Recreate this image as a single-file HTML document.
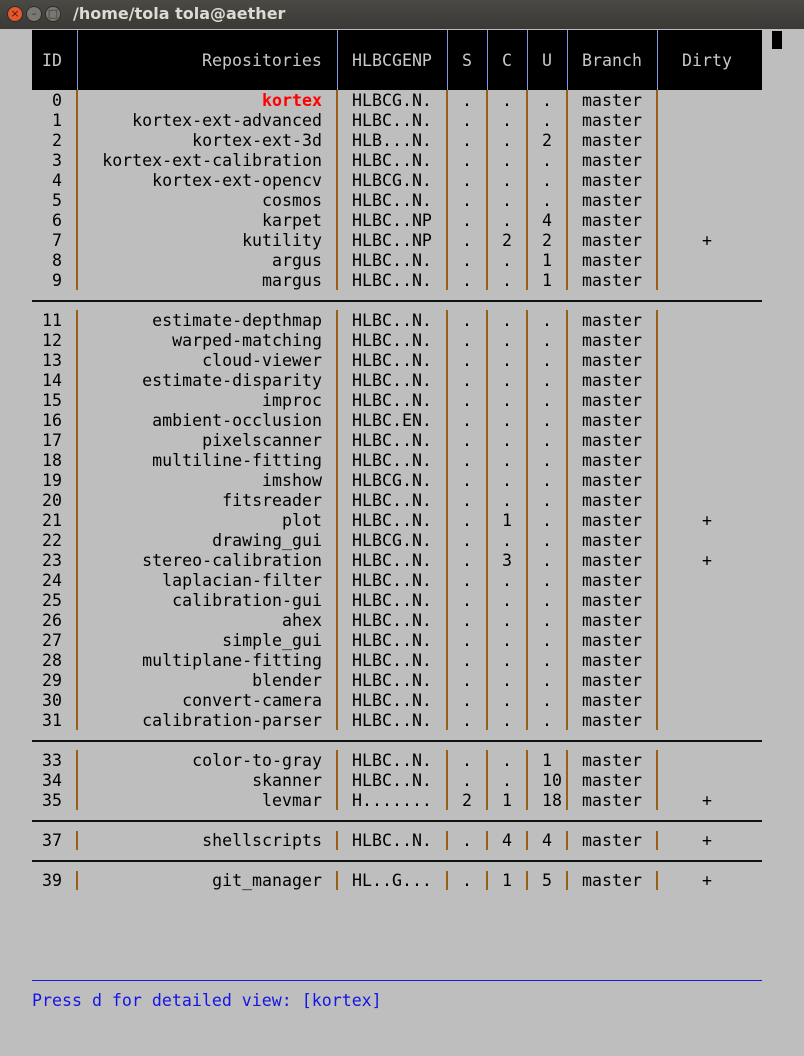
<!DOCTYPE html>
<html><head><meta charset="utf-8"><style>
*{margin:0;padding:0}
body{width:804px;height:1056px;background:#bebebe;position:relative;overflow:hidden;font-family:"DejaVu Sans Mono","Liberation Mono",monospace;font-size:16.6px;color:#000}
.tb{position:absolute;left:0;top:0;width:804px;height:29px;background:linear-gradient(#4a4944,#3a3935)}
.btn{position:absolute;top:6px;width:16px;height:16px;border-radius:50%;background:#7a7872;border:1px solid #2d2c29;box-sizing:border-box;font-size:11px;line-height:14px;text-align:center;color:#333;font-family:"DejaVu Sans",sans-serif}
.title{position:absolute;left:73px;top:4px;color:#dfdbd2;font-family:"DejaVu Sans","Liberation Sans",sans-serif;font-weight:bold;font-size:16px}
.hd{position:absolute;left:32px;top:30px;width:730px;height:60px;background:#000}
.hv{position:absolute;top:30px;height:60px;width:1px;background:#7d9be0}
.ht{position:absolute;top:51px;line-height:20px;color:#c8c8c8;white-space:pre}
.r{position:absolute;left:0;width:804px;height:20px;line-height:20px;white-space:pre}
.r i{font-style:normal;position:absolute;top:1px}
.a{left:0;width:62px;text-align:right}
.p{left:0;width:322px;text-align:right}
.f{left:352px}
.s{left:462px}.c{left:502px}.u{left:542px}
.b{left:582px}.d{left:702px}
.v{position:absolute;width:2px;background:#9a5f16}
.h{position:absolute;left:32px;width:730px;height:2px;background:#111}
.red{color:#f00;font-weight:bold}
</style></head><body>
<div class="tb"><div class="btn" style="left:7px;background:#e5582e;color:#4a1a0a">×</div><div class="btn" style="left:26px">–</div><div class="btn" style="left:45px">□</div><div class="title">/home/tola tola@aether</div></div>
<div style="position:absolute;left:772px;top:31px;width:10px;height:18px;background:#000"></div>
<div class="hd"></div>
<div class="hv" style="left:77px"></div><div class="hv" style="left:337px"></div><div class="hv" style="left:447px"></div><div class="hv" style="left:487px"></div><div class="hv" style="left:527px"></div><div class="hv" style="left:567px"></div><div class="hv" style="left:657px"></div>
<div class="ht" style="left:42px">ID</div><div class="ht" style="left:202px">Repositories</div><div class="ht" style="left:352px">HLBCGENP</div><div class="ht" style="left:462px">S</div><div class="ht" style="left:502px">C</div><div class="ht" style="left:542px">U</div><div class="ht" style="left:582px">Branch</div><div class="ht" style="left:682px">Dirty</div>

<div class="v" style="left:76px;top:90px;height:200px"></div><div class="v" style="left:336px;top:90px;height:200px"></div><div class="v" style="left:446px;top:90px;height:200px"></div><div class="v" style="left:486px;top:90px;height:200px"></div><div class="v" style="left:526px;top:90px;height:200px"></div><div class="v" style="left:566px;top:90px;height:200px"></div><div class="v" style="left:656px;top:90px;height:200px"></div>
<div class="v" style="left:76px;top:310px;height:420px"></div><div class="v" style="left:336px;top:310px;height:420px"></div><div class="v" style="left:446px;top:310px;height:420px"></div><div class="v" style="left:486px;top:310px;height:420px"></div><div class="v" style="left:526px;top:310px;height:420px"></div><div class="v" style="left:566px;top:310px;height:420px"></div><div class="v" style="left:656px;top:310px;height:420px"></div>
<div class="v" style="left:76px;top:750px;height:60px"></div><div class="v" style="left:336px;top:750px;height:60px"></div><div class="v" style="left:446px;top:750px;height:60px"></div><div class="v" style="left:486px;top:750px;height:60px"></div><div class="v" style="left:526px;top:750px;height:60px"></div><div class="v" style="left:566px;top:750px;height:60px"></div><div class="v" style="left:656px;top:750px;height:60px"></div>
<div class="v" style="left:76px;top:831px;height:19px"></div><div class="v" style="left:336px;top:831px;height:19px"></div><div class="v" style="left:446px;top:831px;height:19px"></div><div class="v" style="left:486px;top:831px;height:19px"></div><div class="v" style="left:526px;top:831px;height:19px"></div><div class="v" style="left:566px;top:831px;height:19px"></div><div class="v" style="left:656px;top:831px;height:19px"></div>
<div class="v" style="left:76px;top:871px;height:19px"></div><div class="v" style="left:336px;top:871px;height:19px"></div><div class="v" style="left:446px;top:871px;height:19px"></div><div class="v" style="left:486px;top:871px;height:19px"></div><div class="v" style="left:526px;top:871px;height:19px"></div><div class="v" style="left:566px;top:871px;height:19px"></div><div class="v" style="left:656px;top:871px;height:19px"></div>

<div class="h" style="top:300px"></div><div class="h" style="top:740px"></div><div class="h" style="top:820px"></div><div class="h" style="top:860px"></div>

<div class="r" style="top:90px"><i class="a">0</i><i class="p red">kortex</i><i class="f">HLBCG.N.</i><i class="s">.</i><i class="c">.</i><i class="u">.</i><i class="b">master</i></div>
<div class="r" style="top:110px"><i class="a">1</i><i class="p">kortex-ext-advanced</i><i class="f">HLBC..N.</i><i class="s">.</i><i class="c">.</i><i class="u">.</i><i class="b">master</i></div>
<div class="r" style="top:130px"><i class="a">2</i><i class="p">kortex-ext-3d</i><i class="f">HLB...N.</i><i class="s">.</i><i class="c">.</i><i class="u">2</i><i class="b">master</i></div>
<div class="r" style="top:150px"><i class="a">3</i><i class="p">kortex-ext-calibration</i><i class="f">HLBC..N.</i><i class="s">.</i><i class="c">.</i><i class="u">.</i><i class="b">master</i></div>
<div class="r" style="top:170px"><i class="a">4</i><i class="p">kortex-ext-opencv</i><i class="f">HLBCG.N.</i><i class="s">.</i><i class="c">.</i><i class="u">.</i><i class="b">master</i></div>
<div class="r" style="top:190px"><i class="a">5</i><i class="p">cosmos</i><i class="f">HLBC..N.</i><i class="s">.</i><i class="c">.</i><i class="u">.</i><i class="b">master</i></div>
<div class="r" style="top:210px"><i class="a">6</i><i class="p">karpet</i><i class="f">HLBC..NP</i><i class="s">.</i><i class="c">.</i><i class="u">4</i><i class="b">master</i></div>
<div class="r" style="top:230px"><i class="a">7</i><i class="p">kutility</i><i class="f">HLBC..NP</i><i class="s">.</i><i class="c">2</i><i class="u">2</i><i class="b">master</i><i class="d">+</i></div>
<div class="r" style="top:250px"><i class="a">8</i><i class="p">argus</i><i class="f">HLBC..N.</i><i class="s">.</i><i class="c">.</i><i class="u">1</i><i class="b">master</i></div>
<div class="r" style="top:270px"><i class="a">9</i><i class="p">margus</i><i class="f">HLBC..N.</i><i class="s">.</i><i class="c">.</i><i class="u">1</i><i class="b">master</i></div>

<div class="r" style="top:310px"><i class="a">11</i><i class="p">estimate-depthmap</i><i class="f">HLBC..N.</i><i class="s">.</i><i class="c">.</i><i class="u">.</i><i class="b">master</i></div>
<div class="r" style="top:330px"><i class="a">12</i><i class="p">warped-matching</i><i class="f">HLBC..N.</i><i class="s">.</i><i class="c">.</i><i class="u">.</i><i class="b">master</i></div>
<div class="r" style="top:350px"><i class="a">13</i><i class="p">cloud-viewer</i><i class="f">HLBC..N.</i><i class="s">.</i><i class="c">.</i><i class="u">.</i><i class="b">master</i></div>
<div class="r" style="top:370px"><i class="a">14</i><i class="p">estimate-disparity</i><i class="f">HLBC..N.</i><i class="s">.</i><i class="c">.</i><i class="u">.</i><i class="b">master</i></div>
<div class="r" style="top:390px"><i class="a">15</i><i class="p">improc</i><i class="f">HLBC..N.</i><i class="s">.</i><i class="c">.</i><i class="u">.</i><i class="b">master</i></div>
<div class="r" style="top:410px"><i class="a">16</i><i class="p">ambient-occlusion</i><i class="f">HLBC.EN.</i><i class="s">.</i><i class="c">.</i><i class="u">.</i><i class="b">master</i></div>
<div class="r" style="top:430px"><i class="a">17</i><i class="p">pixelscanner</i><i class="f">HLBC..N.</i><i class="s">.</i><i class="c">.</i><i class="u">.</i><i class="b">master</i></div>
<div class="r" style="top:450px"><i class="a">18</i><i class="p">multiline-fitting</i><i class="f">HLBC..N.</i><i class="s">.</i><i class="c">.</i><i class="u">.</i><i class="b">master</i></div>
<div class="r" style="top:470px"><i class="a">19</i><i class="p">imshow</i><i class="f">HLBCG.N.</i><i class="s">.</i><i class="c">.</i><i class="u">.</i><i class="b">master</i></div>
<div class="r" style="top:490px"><i class="a">20</i><i class="p">fitsreader</i><i class="f">HLBC..N.</i><i class="s">.</i><i class="c">.</i><i class="u">.</i><i class="b">master</i></div>
<div class="r" style="top:510px"><i class="a">21</i><i class="p">plot</i><i class="f">HLBC..N.</i><i class="s">.</i><i class="c">1</i><i class="u">.</i><i class="b">master</i><i class="d">+</i></div>
<div class="r" style="top:530px"><i class="a">22</i><i class="p">drawing_gui</i><i class="f">HLBCG.N.</i><i class="s">.</i><i class="c">.</i><i class="u">.</i><i class="b">master</i></div>
<div class="r" style="top:550px"><i class="a">23</i><i class="p">stereo-calibration</i><i class="f">HLBC..N.</i><i class="s">.</i><i class="c">3</i><i class="u">.</i><i class="b">master</i><i class="d">+</i></div>
<div class="r" style="top:570px"><i class="a">24</i><i class="p">laplacian-filter</i><i class="f">HLBC..N.</i><i class="s">.</i><i class="c">.</i><i class="u">.</i><i class="b">master</i></div>
<div class="r" style="top:590px"><i class="a">25</i><i class="p">calibration-gui</i><i class="f">HLBC..N.</i><i class="s">.</i><i class="c">.</i><i class="u">.</i><i class="b">master</i></div>
<div class="r" style="top:610px"><i class="a">26</i><i class="p">ahex</i><i class="f">HLBC..N.</i><i class="s">.</i><i class="c">.</i><i class="u">.</i><i class="b">master</i></div>
<div class="r" style="top:630px"><i class="a">27</i><i class="p">simple_gui</i><i class="f">HLBC..N.</i><i class="s">.</i><i class="c">.</i><i class="u">.</i><i class="b">master</i></div>
<div class="r" style="top:650px"><i class="a">28</i><i class="p">multiplane-fitting</i><i class="f">HLBC..N.</i><i class="s">.</i><i class="c">.</i><i class="u">.</i><i class="b">master</i></div>
<div class="r" style="top:670px"><i class="a">29</i><i class="p">blender</i><i class="f">HLBC..N.</i><i class="s">.</i><i class="c">.</i><i class="u">.</i><i class="b">master</i></div>
<div class="r" style="top:690px"><i class="a">30</i><i class="p">convert-camera</i><i class="f">HLBC..N.</i><i class="s">.</i><i class="c">.</i><i class="u">.</i><i class="b">master</i></div>
<div class="r" style="top:710px"><i class="a">31</i><i class="p">calibration-parser</i><i class="f">HLBC..N.</i><i class="s">.</i><i class="c">.</i><i class="u">.</i><i class="b">master</i></div>

<div class="r" style="top:750px"><i class="a">33</i><i class="p">color-to-gray</i><i class="f">HLBC..N.</i><i class="s">.</i><i class="c">.</i><i class="u">1</i><i class="b">master</i></div>
<div class="r" style="top:770px"><i class="a">34</i><i class="p">skanner</i><i class="f">HLBC..N.</i><i class="s">.</i><i class="c">.</i><i class="u">10</i><i class="b">master</i></div>
<div class="r" style="top:790px"><i class="a">35</i><i class="p">levmar</i><i class="f">H.......</i><i class="s">2</i><i class="c">1</i><i class="u">18</i><i class="b">master</i><i class="d">+</i></div>
<div class="r" style="top:830px"><i class="a">37</i><i class="p">shellscripts</i><i class="f">HLBC..N.</i><i class="s">.</i><i class="c">4</i><i class="u">4</i><i class="b">master</i><i class="d">+</i></div>
<div class="r" style="top:870px"><i class="a">39</i><i class="p">git_manager</i><i class="f">HL..G...</i><i class="s">.</i><i class="c">1</i><i class="u">5</i><i class="b">master</i><i class="d">+</i></div>

<div style="position:absolute;left:32px;top:980px;width:730px;height:1px;background:#1a1ad0"></div>
<div class="r" style="top:990px;left:32px;color:#1414e6"><i style="left:0">Press d for detailed view: [kortex]</i></div>
</body></html>
